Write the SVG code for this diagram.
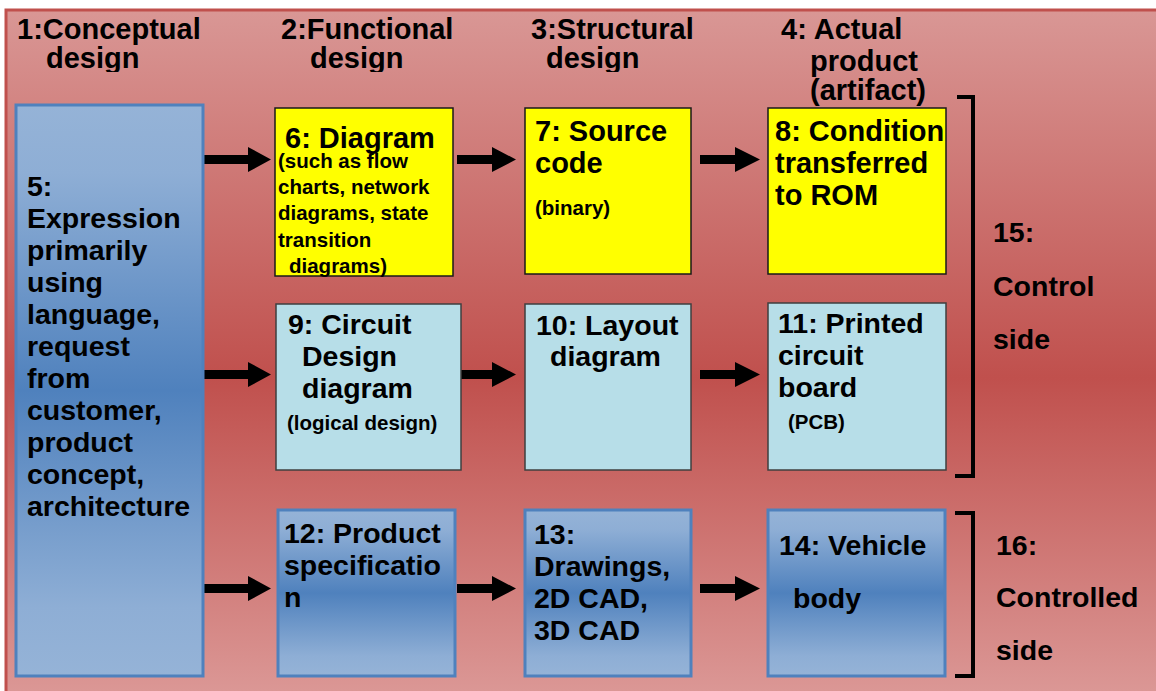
<svg xmlns="http://www.w3.org/2000/svg" width="1156" height="691" viewBox="0 0 1156 691">
<defs>
<linearGradient id="bg" gradientUnits="userSpaceOnUse" x1="0" y1="10" x2="0" y2="691">
<stop offset="0" stop-color="#d99795"/>
<stop offset="0.54" stop-color="#c0504d"/>
<stop offset="1" stop-color="#db9795"/>
</linearGradient>
<linearGradient id="blue" x1="0" y1="0" x2="0" y2="1">
<stop offset="0" stop-color="#95b3d7"/>
<stop offset="0.12" stop-color="#8eaed5"/>
<stop offset="0.5" stop-color="#4f81bd"/>
<stop offset="0.88" stop-color="#8eaed5"/>
<stop offset="1" stop-color="#95b3d7"/>
</linearGradient>
<clipPath id="hclip"><rect x="0" y="0" width="760" height="72"/></clipPath>
</defs>
<style>
text{font-family:"Liberation Sans",Arial,sans-serif;font-weight:bold;fill:#000}
.h{font-size:29px}
.b{font-size:28.5px}
.s{font-size:20.5px}
.yel{fill:#ffff00;stroke:#1a1a1a;stroke-width:1.5}
.cyn{fill:#b7dee8;stroke:#3f3f3f;stroke-width:1.5}
.blu{fill:url(#blue);stroke:#4f81bd;stroke-width:3}
.arr{fill:#000}
.brk{fill:none;stroke:#000;stroke-width:4}
</style>
<rect x="6" y="10" width="1160" height="700" fill="url(#bg)" stroke="#c0504d" stroke-width="3"/>

<g id="headers">
<g clip-path="url(#hclip)">
<text class="h" x="17" y="39">1:Conceptual</text>
<text class="h" x="46" y="68">design</text>
<text class="h" x="281" y="39">2:Functional</text>
<text class="h" x="310" y="68">design</text>
<text class="h" x="531" y="39">3:Structural</text>
<text class="h" x="546" y="68">design</text>
</g>
<text class="h" x="781" y="39">4: Actual</text>
<text class="h" x="810" y="71">product</text>
<text class="h" x="810" y="100">(artifact)</text>
</g>

<g id="connectors">
<polygon class="arr" points="202,155 248,155 248,147 271,159.5 248,172 248,164 202,164"/>
<polygon class="arr" points="457,155 492,155 492,147 516,159.5 492,172 492,164 457,164"/>
<polygon class="arr" points="700,155 735,155 735,147 760,159.5 735,172 735,164 700,164"/>
<polygon class="arr" points="202,370 248,370 248,362 271,374.5 248,387 248,379 202,379"/>
<polygon class="arr" points="457,370 492,370 492,362 516,374.5 492,387 492,379 457,379"/>
<polygon class="arr" points="700,370 735,370 735,362 760,374.5 735,387 735,379 700,379"/>
<polygon class="arr" points="202,584 248,584 248,576 271,588.5 248,601 248,593 202,593"/>
<polygon class="arr" points="457,584 492,584 492,576 516,588.5 492,601 492,593 457,593"/>
<polygon class="arr" points="700,584 735,584 735,576 760,588.5 735,601 735,593 700,593"/>
</g>

<g id="n5">
<rect class="blu" x="16" y="105" width="187" height="571"/>
<text class="b" x="27" y="196">5:</text>
<text class="b" x="27" y="228">Expression</text>
<text class="b" x="27" y="260">primarily</text>
<text class="b" x="27" y="292">using</text>
<text class="b" x="27" y="324">language,</text>
<text class="b" x="27" y="356">request</text>
<text class="b" x="27" y="388">from</text>
<text class="b" x="27" y="420">customer,</text>
<text class="b" x="27" y="452">product</text>
<text class="b" x="27" y="484">concept,</text>
<text class="b" x="27" y="516">architecture</text>
</g>

<g id="n6">
<rect class="yel" x="275" y="108" width="178" height="168"/>
<text class="h" x="285" y="148">6: Diagram</text>
<text class="s" x="278" y="168">(such as flow</text>
<text class="s" x="278" y="194">charts, network</text>
<text class="s" x="278" y="220">diagrams, state</text>
<text class="s" x="278" y="247">transition</text>
<text class="s" x="289" y="273">diagrams)</text>
</g>

<g id="n7">
<rect class="yel" x="525" y="108" width="166" height="166"/>
<text class="h" x="535" y="141">7: Source</text>
<text class="h" x="535" y="173">code</text>
<text class="s" x="535" y="215">(binary)</text>
</g>

<g id="n8">
<rect class="yel" x="768" y="108" width="178" height="166"/>
<text class="h" x="775" y="141">8: Condition</text>
<text class="h" x="775" y="173">transferred</text>
<text class="h" x="775" y="205">to ROM</text>
</g>

<g id="n9">
<rect class="cyn" x="276" y="304" width="185" height="166"/>
<text class="b" x="288" y="334">9: Circuit</text>
<text class="b" x="302" y="366">Design</text>
<text class="b" x="302" y="398">diagram</text>
<text class="s" x="287" y="430">(logical design)</text>
</g>

<g id="n10">
<rect class="cyn" x="525" y="304" width="166" height="166"/>
<text class="b" x="536" y="335">10: Layout</text>
<text class="b" x="550" y="366">diagram</text>
</g>

<g id="n11">
<rect class="cyn" x="768" y="303" width="178" height="167"/>
<text class="b" x="778" y="333">11: Printed</text>
<text class="b" x="778" y="365">circuit</text>
<text class="b" x="778" y="397">board</text>
<text class="s" x="788" y="429">(PCB)</text>
</g>

<g id="n12">
<rect class="blu" x="278" y="510" width="177" height="166"/>
<text class="b" x="284" y="543">12: Product</text>
<text class="b" x="284" y="575">specificatio</text>
<text class="b" x="284" y="607">n</text>
</g>

<g id="n13">
<rect class="blu" x="525" y="510" width="166" height="166"/>
<text class="b" x="534" y="544">13:</text>
<text class="b" x="534" y="576">Drawings,</text>
<text class="b" x="534" y="608">2D CAD,</text>
<text class="b" x="534" y="640">3D CAD</text>
</g>

<g id="n14">
<rect class="blu" x="768" y="510" width="177" height="166"/>
<text class="b" x="779" y="555">14: Vehicle</text>
<text class="b" x="793" y="608">body</text>
</g>

<g id="n15">
<path class="brk" d="M957,97 H973 V476 H955"/>
<text class="b" x="993" y="242">15:</text>
<text class="b" x="993" y="296">Control</text>
<text class="b" x="993" y="349">side</text>
</g>

<g id="n16">
<path class="brk" d="M955,513 H973 V676 H955"/>
<text class="b" x="996" y="555">16:</text>
<text class="b" x="996" y="607">Controlled</text>
<text class="b" x="996" y="660">side</text>
</g>
</svg>
